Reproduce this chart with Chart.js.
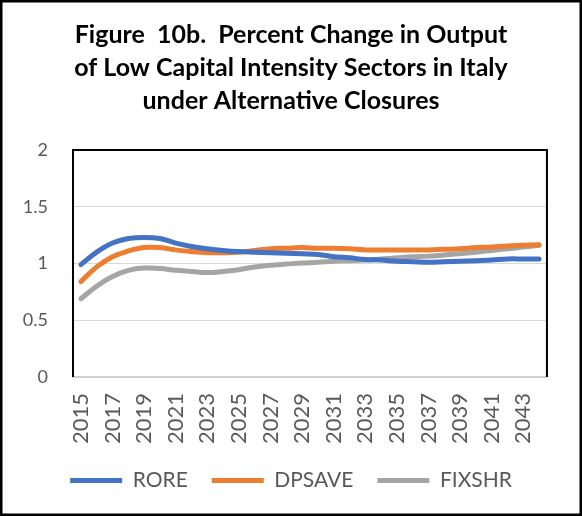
<!DOCTYPE html>
<html>
<head>
<meta charset="utf-8">
<script src="https://cdn.jsdelivr.net/npm/chart.js@4/dist/chart.umd.min.js"></script>
<style>
  html, body { margin: 0; padding: 0; background: #ffffff; }
  #wrap { width: 582px; height: 516px; }
</style>
</head>
<body>
<div id="wrap"><canvas id="c" width="582" height="516"></canvas></div>
<script>
// Years on the category axis
const years = [
  '2015','2016','2017','2018','2019','2020','2021','2022','2023','2024',
  '2025','2026','2027','2028','2029','2030','2031','2032','2033','2034',
  '2035','2036','2037','2038','2039','2040','2041','2042','2043','2044'
];

// Percent change in output, by closure rule
const rore = [
  0.99, 1.10, 1.18, 1.22, 1.23, 1.22, 1.18, 1.15, 1.13, 1.115,
  1.105, 1.10, 1.095, 1.09, 1.085, 1.08, 1.06, 1.05, 1.035, 1.03,
  1.02, 1.015, 1.01, 1.015, 1.02, 1.025, 1.03, 1.04, 1.04, 1.04
];
const dpsave = [
  0.84, 0.97, 1.06, 1.11, 1.14, 1.14, 1.12, 1.105, 1.095, 1.095,
  1.10, 1.115, 1.13, 1.135, 1.14, 1.135, 1.135, 1.13, 1.12, 1.12,
  1.12, 1.12, 1.12, 1.125, 1.13, 1.14, 1.145, 1.155, 1.16, 1.165
];
const fixshr = [
  0.69, 0.80, 0.885, 0.94, 0.96, 0.955, 0.94, 0.93, 0.92, 0.93,
  0.945, 0.97, 0.985, 0.995, 1.005, 1.01, 1.02, 1.025, 1.03, 1.04,
  1.05, 1.06, 1.065, 1.075, 1.085, 1.10, 1.115, 1.13, 1.145, 1.16
];

// Value-axis tick labels, bottom to top
const yTickLabels = ['0', '0.5', '1', '1.5', '2'];

const titleLines = [
  'Figure  10b.  Percent Change in Output',
  'of Low Capital Intensity Sectors in Italy',
  'under Alternative Closures'
];

const FONT = 'Lato, "Open Sans", sans-serif';

// Outer chart border plus the plot-area frame (black top/left/right)
const framePlugin = {
  id: 'frame',
  beforeDatasetsDraw(chart) {
    const { ctx, chartArea: a } = chart;
    ctx.save();
    ctx.strokeStyle = '#000000';
    ctx.lineWidth = 2;
    ctx.beginPath();
    ctx.moveTo(a.left, a.bottom);
    ctx.lineTo(a.left, a.top);
    ctx.lineTo(a.right, a.top);
    ctx.lineTo(a.right, a.bottom);
    ctx.stroke();
    ctx.restore();
  },
  afterDraw(chart) {
    const { ctx, width, height } = chart;
    ctx.save();
    ctx.strokeStyle = '#000000';
    ctx.lineWidth = 2.5;
    ctx.strokeRect(1.25, 1.25, width - 2.5, height - 2.5);
    ctx.restore();
  }
};

function series(label, data, color) {
  return {
    label, data,
    yAxisID: 'y',
    borderColor: color,
    backgroundColor: color,
    borderWidth: 5,
    borderCapStyle: 'round',
    borderJoinStyle: 'round',
    pointRadius: 0,
    pointHoverRadius: 0,
    tension: 0.4,
    fill: false
  };
}

new Chart(document.getElementById('c'), {
  type: 'line',
  data: {
    labels: years,
    datasets: [
      series('RORE', rore, '#4472C4'),
      series('DPSAVE', dpsave, '#ED7D31'),
      series('FIXSHR', fixshr, '#A5A5A5')
    ]
  },
  options: {
    responsive: false,
    animation: false,
    layout: { padding: { top: 0, left: 0, right: 0, bottom: 15 } },
    plugins: {
      title: {
        display: true,
        text: titleLines,
        color: '#000000',
        font: { family: FONT, size: 25, weight: 'bold', lineHeight: 1.32 },
        padding: { top: 18, bottom: 33 }
      },
      legend: {
        position: 'bottom',
        labels: {
          usePointStyle: true,
          pointStyle: 'line',
          pointStyleWidth: 52,
          padding: 24,
          color: '#595959',
          font: { family: FONT, size: 21 }
        }
      },
      tooltip: { enabled: false }
    },
    scales: {
      x: {
        type: 'category',
        offset: true,
        grid: { display: false, drawTicks: false },
        border: { display: true, color: '#D0D0D0', width: 2 },
        ticks: {
          autoSkip: false,
          minRotation: 90,
          maxRotation: 90,
          padding: 16,
          color: '#595959',
          font: { family: FONT, size: 22 },
          callback(value, index) {
            return index % 2 === 0 ? this.getLabelForValue(value) : '';
          }
        },
        afterFit(scale) { scale.height = 69; }
      },
      y: {
        min: 0,
        max: 2,
        grid: { color: '#D9D9D9', lineWidth: 1, drawTicks: false },
        border: { display: false },
        ticks: {
          stepSize: 0.5,
          padding: 25,
          color: '#595959',
          font: { family: FONT, size: 18 },
          callback(value, index) { return yTickLabels[index]; }
        },
        afterFit(scale) { scale.width = 73; }
      },
      // empty right-hand margin beside the plot area
      yRight: {
        position: 'right',
        display: true,
        grid: { display: false, drawTicks: false },
        border: { display: false },
        ticks: { display: false },
        afterFit(scale) { scale.width = 33; }
      }
    }
  },
  plugins: [framePlugin]
});
</script>
</body>
</html>
